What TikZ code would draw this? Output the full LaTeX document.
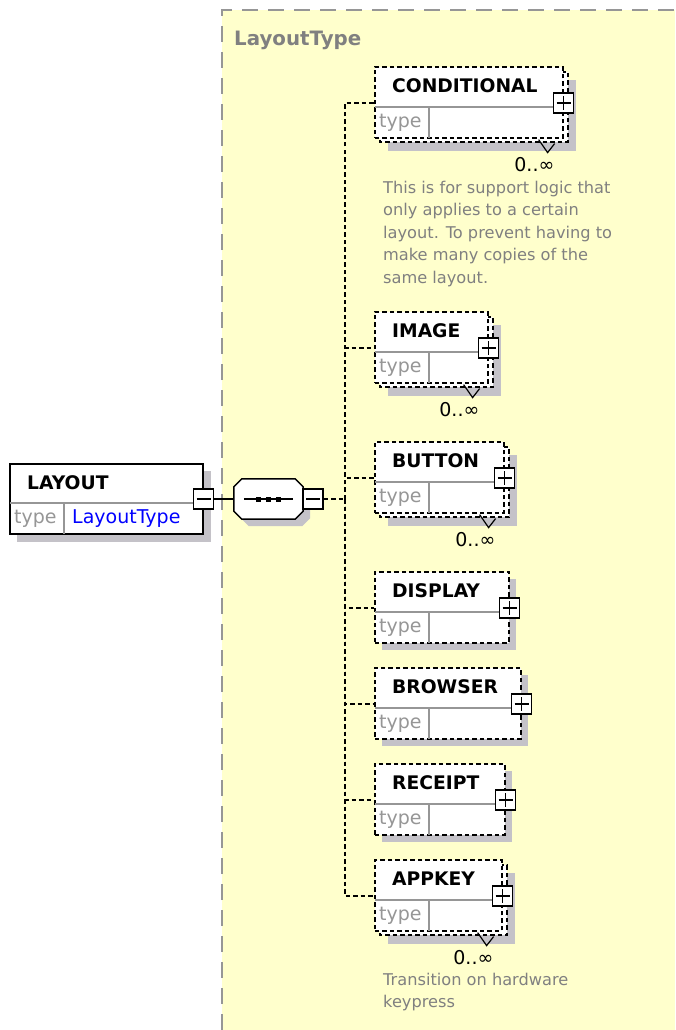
\documentclass[tikz,border=0pt]{standalone}
\usepackage{fontspec}
\setmainfont{DejaVu Sans}
\usetikzlibrary{calc}

\definecolor{paper}{RGB}{255,255,204}
\definecolor{dropgray}{RGB}{196,194,200}
\definecolor{rule}{RGB}{150,150,150}
\definecolor{note}{RGB}{128,128,128}
\definecolor{typeblue}{RGB}{0,0,255}

\tikzset{
  dashline/.style={line width=1.6pt, dash pattern=on 4.5pt off 3pt},
  elembox/.style={draw=black, fill=white, dashline, inner sep=0pt, minimum height=71pt},
  conn/.style={draw=black, dashline},
  pmbox/.style={draw=black, fill=white, line width=1.5pt, minimum size=20pt, inner sep=0pt},
  sepline/.style={draw=rule, line width=1.5pt},
  dropshadow/.style={fill=dropgray, draw=none},
  regionline/.style={draw=rule, line width=2pt, dash pattern=on 16pt off 10pt},
  titletext/.style={font=\fontsize{18.7}{22}\selectfont\bfseries, inner sep=0pt},
  typetext/.style={font=\fontsize{19}{22}\selectfont, text=rule, inner sep=0pt},
  occtext/.style={font=\fontsize{19}{22}\selectfont, inner sep=0pt},
  doctext/.style={font=\fontsize{16.2}{22.4}\selectfont, text=note, align=left, inner sep=0pt},
}

% plus / minus signs inside the expand boxes
\newcommand\plusmark[1]{\draw[line width=1.5pt] ($(#1.center)+(-7,0)$) -- ($(#1.center)+(7,0)$) ($(#1.center)+(0,-7)$) -- ($(#1.center)+(0,7)$);}
\newcommand\minusmark[1]{\draw[line width=1.5pt] ($(#1.center)+(-7,0)$) -- ($(#1.center)+(7,0)$);}

% child element: #1 name, #2 top edge, #3 right edge, #4 title, #5 = 1 for a repeating element
\newcommand\childelem[5]{%
  \pgfmathsetmacro\elemw{#3-374}
  \ifnum#5=1
    \path[dropshadow] (388,#2+14) rectangle (#3+14,#2+85);
    \draw[dashline, fill=white] (380,#2+6) rectangle (#3+6,#2+76);
  \else
    \path[dropshadow] (382,#2+8) rectangle (#3+8,#2+79);
  \fi
  \node[elembox, minimum width=\elemw pt, anchor=north west] (#1) at (374,#2) {};
  \draw[sepline] ($(#1.north west)+(1,41)$) -- ($(#1.north east)+(-1,41)$);
  \draw[sepline] ($(#1.north west)+(55,41)$) -- ($(#1.south west)+(55,-1)$);
  \node[titletext, anchor=west] (#1-title) at ($(#1.north west)+(18,20)$) {#4};
  \node[typetext, anchor=west] (#1-type) at ($(#1.north west)+(5,57)$) {type};
  \node[pmbox] (#1-pm) at ($(#1.north east)+(0,37)$) {};
  \plusmark{#1-pm}
  \ifnum#5=1
    \draw[line width=1.2pt] ($(#1.south east)+(-25,1)$) -- ++(9,13) -- ++(7,-9);
    \node[occtext, anchor=east] (#1-occ) at ($(#1.south east)+(-9,26)$) {0..∞};
  \fi
  \draw[conn] (hub) |- (#1.west |- #1-pm);
}

\begin{document}
\begin{tikzpicture}[x=1pt, y=-1pt]
\useasboundingbox (0,0) rectangle (675,1030);

% complex type area
\fill[paper] (222,10) rectangle (675,1030);
\draw[regionline] (222,1030) -- (222,10) -- (675,10);
\node[anchor=west, inner sep=0pt, text=note, font=\fontsize{19.8}{23}\selectfont\bfseries] (ltype) at (234,40) {LayoutType};

% root element
\path[dropshadow] (17,471) rectangle (211,542);
\node[draw=black, fill=white, line width=1.6pt, minimum width=193pt, minimum height=70pt, inner sep=0pt, anchor=north west] (layout) at (9,463) {};
\draw[sepline] ($(layout.north west)+(1,40)$) -- ($(layout.north east)+(-1,40)$);
\draw[sepline] ($(layout.north west)+(55,40)$) -- ($(layout.south west)+(55,-1)$);
\node[titletext, anchor=west] (layout-title) at (27,483) {LAYOUT};
\node[typetext, anchor=west] (layout-type) at (14,519) {type};
\node[anchor=west, inner sep=0pt, text=typeblue, font=\fontsize{19}{22}\selectfont] (layout-typename) at (72,519) {LayoutType};
\node[pmbox] (layout-pm) at ($(layout.north east)+(0,36)$) {};
\minusmark{layout-pm}

% sequence compositor
\node[minimum width=69pt, minimum height=40pt, inner sep=0pt] (seq) at (268.5,499) {};
\path[dropshadow] ($(seq.north west)+(15,7)$) -- ($(seq.north east)+(-1,7)$) -- ($(seq.north east)+(7,15)$) -- ($(seq.south east)+(7,-1)$) -- ($(seq.south east)+(-1,7)$) -- ($(seq.south west)+(15,7)$) -- ($(seq.south west)+(7,-1)$) -- ($(seq.north west)+(7,15)$) -- cycle;
\draw[line width=1.5pt, fill=white] ($(seq.north west)+(8,0)$) -- ($(seq.north east)+(-8,0)$) -- ($(seq.north east)+(0,8)$) -- ($(seq.south east)+(0,-8)$) -- ($(seq.south east)+(-8,0)$) -- ($(seq.south west)+(8,0)$) -- ($(seq.south west)+(0,-8)$) -- ($(seq.north west)+(0,8)$) -- cycle;
\draw[line width=1.5pt] ($(seq.west)+(10,0)$) -- ($(seq.east)+(-10,0)$);
\foreach \dx in {-10,0,10} \fill ($(seq.center)+(\dx-2.5,-2.5)$) rectangle ++(5,5);
\node[pmbox] (seq-pm) at ($(seq.east)+(10,0)$) {};
\minusmark{seq-pm}
\draw[line width=1.5pt] (layout-pm.east) -- (seq.west);

\coordinate (hub) at (345,499);
\draw[conn] (seq-pm.east) -- (hub);

% child elements
\childelem{cond}{66}{562}{CONDITIONAL}{1}
\childelem{image}{311}{487}{IMAGE}{1}
\childelem{button}{441}{503}{BUTTON}{1}
\childelem{display}{571}{508}{DISPLAY}{0}
\childelem{browser}{667}{520}{BROWSER}{0}
\childelem{receipt}{763}{504}{RECEIPT}{0}
\childelem{appkey}{859}{501}{APPKEY}{1}

% documentation
\node[doctext, anchor=north west] (cond-doc) at (383,181) {This is for support logic that\\only applies to a certain\\layout. To prevent having to\\make many copies of the\\same layout.};
\node[doctext, anchor=north west] (appkey-doc) at (383,973) {Transition on hardware\\keypress};
\end{tikzpicture}
\end{document}
